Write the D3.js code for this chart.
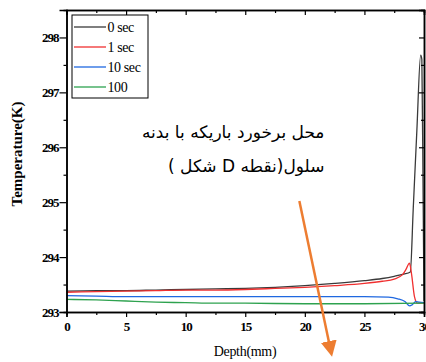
<!DOCTYPE html>
<html>
<head>
<meta charset="utf-8">
<script src="https://cdn.jsdelivr.net/npm/d3@7"></script>
<style>
  body { margin: 0; background: #fff; }
  svg { display: block; }
  .serif { font-family: 'Liberation Serif', 'Times New Roman', serif; }
</style>
</head>
<body>
<svg id="chart" width="426" height="362"></svg>
<script>
// values
var seriesNames = ["0 sec", "1 sec", "10 sec", "100"];
var seriesColors = ["#3a3a3a", "#f03030", "#1f68e0", "#2ea24f"];

var depth0 = [0, 2.5, 5, 7.5, 10, 12.5, 15, 17.5, 20, 22.5, 25, 26.5, 27.5, 28.3, 28.85, 29.1, 29.4, 29.72, 29.82, 29.93, 30];
var temp0  = [293.38, 293.39, 293.39, 293.40, 293.41, 293.42, 293.43, 293.45, 293.48, 293.52, 293.57, 293.61, 293.65, 293.69, 293.73, 294.9, 296.3, 297.68, 297.6, 295.0, 293.2];

var depth1 = [0, 2.5, 5, 7.5, 10, 12.5, 15, 17.5, 20, 22.5, 25, 26.5, 27.5, 28.2, 28.5, 28.78, 28.95, 29.2, 29.45, 29.7, 30];
var temp1  = [293.36, 293.37, 293.38, 293.39, 293.40, 293.40, 293.41, 293.43, 293.45, 293.48, 293.52, 293.56, 293.60, 293.68, 293.78, 293.89, 293.7, 293.28, 293.16, 293.16, 293.17];

var depth10 = [0, 2.5, 5, 10, 15, 20, 25, 27, 27.8, 28.4, 28.8, 29.0, 29.3, 29.6, 30];
var temp10  = [293.30, 293.29, 293.28, 293.28, 293.28, 293.28, 293.28, 293.27, 293.24, 293.19, 293.11, 293.13, 293.19, 293.18, 293.17];

var depth100 = [0, 2.5, 5, 7.5, 10, 12.5, 15, 20, 25, 30];
var temp100  = [293.23, 293.22, 293.20, 293.18, 293.17, 293.16, 293.16, 293.15, 293.15, 293.16];

var xTicks = [0, 5, 10, 15, 20, 25, 30];
var yTicks = [293, 294, 295, 296, 297, 298];

var noteLines = ["محل برخورد باریکه با بدنه", "سلول(نقطه D شکل )"];
// annotation anchor (data coords): right edge of the text, and the arrow
var noteAt = {depth: 21.65, temps: [296.16, 295.55]};
var arrowFrom = [19.54, 295.02], arrowTo = [22.23, 292.24];

var margin = {top: 10, right: 2, bottom: 50, left: 66.5};
var width = 426 - margin.left - margin.right;
var height = 362 - margin.top - margin.bottom;

var svg = d3.select("#chart");
var g = svg.append("g")
    .attr("transform", "translate(" + margin.left + "," + margin.top + ")");

var x = d3.scaleLinear().domain([0, 30]).range([0, width]);
var y = d3.scaleLinear().domain([293, 298.5]).range([height, 0]);

var series = [
  {name: seriesNames[0], color: seriesColors[0], xs: depth0, ys: temp0},
  {name: seriesNames[1], color: seriesColors[1], xs: depth1, ys: temp1},
  {name: seriesNames[2], color: seriesColors[2], xs: depth10, ys: temp10},
  {name: seriesNames[3], color: seriesColors[3], xs: depth100, ys: temp100}
];

g.append("clipPath").attr("id", "plot-clip")
  .append("rect").attr("width", width).attr("height", height);

var line = d3.line()
    .x(function(d) { return x(d[0]); })
    .y(function(d) { return y(d[1]); })
    .curve(d3.curveMonotoneX);

g.append("g").attr("clip-path", "url(#plot-clip)")
  .selectAll("path")
  .data(series)
  .enter().append("path")
    .attr("fill", "none")
    .attr("stroke", function(d) { return d.color; })
    .attr("stroke-width", 1.3)
    .attr("d", function(d) { return line(d.xs.map(function(v, i) { return [v, d.ys[i]]; })); });

// axes
var minorX = d3.range(2.5, 30, 5);
var minorY = d3.range(293.5, 298.5, 1);
var fmt = d3.format("d");

g.append("g").attr("class", "axis").attr("transform", "translate(0," + height + ")")
    .call(d3.axisBottom(x).tickValues(xTicks).tickFormat(fmt).tickSize(5).tickPadding(5));
g.append("g").attr("transform", "translate(0," + height + ")")
    .call(d3.axisBottom(x).tickValues(minorX).tickSize(3).tickFormat(""));
g.append("g").attr("class", "axis")
    .call(d3.axisLeft(y).tickValues(yTicks).tickFormat(fmt).tickSize(7).tickPadding(1));
g.append("g")
    .call(d3.axisLeft(y).tickValues(minorY).tickSize(3).tickFormat(""));
g.append("g")
    .call(d3.axisTop(x).tickValues(xTicks).tickSize(-5).tickFormat(""));
g.append("g")
    .call(d3.axisTop(x).tickValues(minorX).tickSize(-3).tickFormat(""));
g.append("g").attr("transform", "translate(" + width + ",0)")
    .call(d3.axisRight(y).tickValues(yTicks).tickSize(-5).tickFormat(""));
g.append("g").attr("transform", "translate(" + width + ",0)")
    .call(d3.axisRight(y).tickValues(minorY).tickSize(-3).tickFormat(""));

g.selectAll(".domain").attr("stroke", "#000").attr("stroke-width", 1.5);
g.selectAll(".tick line").attr("stroke", "#000").attr("stroke-width", 1.2);
g.selectAll(".axis")
    .attr("font-family", null)
    .attr("font-size", null);
g.selectAll(".axis .tick text")
    .attr("class", "serif")
    .style("font-weight", "bold")
    .style("font-size", "13px")
    .style("letter-spacing", "-1px")
    .attr("fill", "#000");

// axis titles
svg.append("text")
    .attr("class", "serif")
    .attr("x", 245)
    .attr("y", 356)
    .attr("text-anchor", "middle")
    .style("font-size", "14px")
    .style("letter-spacing", "-0.3px")
    .text("Depth(mm)");

svg.append("text")
    .attr("class", "serif")
    .attr("transform", "translate(22," + 154 + ") rotate(-90)")
    .attr("text-anchor", "middle")
    .style("font-weight", "bold")
    .style("font-size", "15px")
    .text("Temperature(K)");

// legend
var legend = g.append("g").attr("transform", "translate(5.5,5)");
legend.append("rect")
    .attr("width", 76)
    .attr("height", 83)
    .attr("fill", "#fff")
    .attr("stroke", "#000")
    .attr("stroke-width", 1);
var item = legend.selectAll("g.item")
  .data(series)
  .enter().append("g")
    .attr("class", "item")
    .attr("transform", function(d, i) { return "translate(0," + (12 + i * 20) + ")"; });
item.append("line")
    .attr("x1", 2).attr("x2", 34)
    .attr("stroke", function(d) { return d.color; })
    .attr("stroke-width", 1.3);
item.append("text")
    .attr("class", "serif")
    .attr("x", 35.5)
    .attr("y", 4.5)
    .style("font-size", "14px")
    .style("letter-spacing", "-0.4px")
    .text(function(d) { return d.name; });

// annotation text (Persian) and arrow
g.selectAll("text.note")
  .data(noteLines)
  .enter().append("text")
    .attr("class", "note")
    .attr("x", x(noteAt.depth))
    .attr("y", function(d, i) { return y(noteAt.temps[i]); })
    .attr("text-anchor", "start")
    .attr("direction", "rtl")
    .style("direction", "rtl")
    .style("unicode-bidi", "embed")
    .style("font-family", "'DejaVu Sans', sans-serif")
    .style("font-size", "17px")
    .text(function(d) { return d; });

svg.append("defs").append("marker")
    .attr("id", "arrowhead")
    .attr("viewBox", "0 0 10 10")
    .attr("refX", 8).attr("refY", 5)
    .attr("markerUnits", "userSpaceOnUse")
    .attr("markerWidth", 16).attr("markerHeight", 16)
    .attr("orient", "auto")
  .append("path")
    .attr("d", "M0,0 L10,5 L0,10 Z")
    .attr("fill", "#ed7d31");

g.append("line")
    .attr("x1", x(arrowFrom[0])).attr("y1", y(arrowFrom[1]))
    .attr("x2", x(arrowTo[0])).attr("y2", y(arrowTo[1]))
    .attr("stroke", "#ed7d31")
    .attr("stroke-width", 2.5)
    .attr("marker-end", "url(#arrowhead)");
</script>
</body>
</html>
